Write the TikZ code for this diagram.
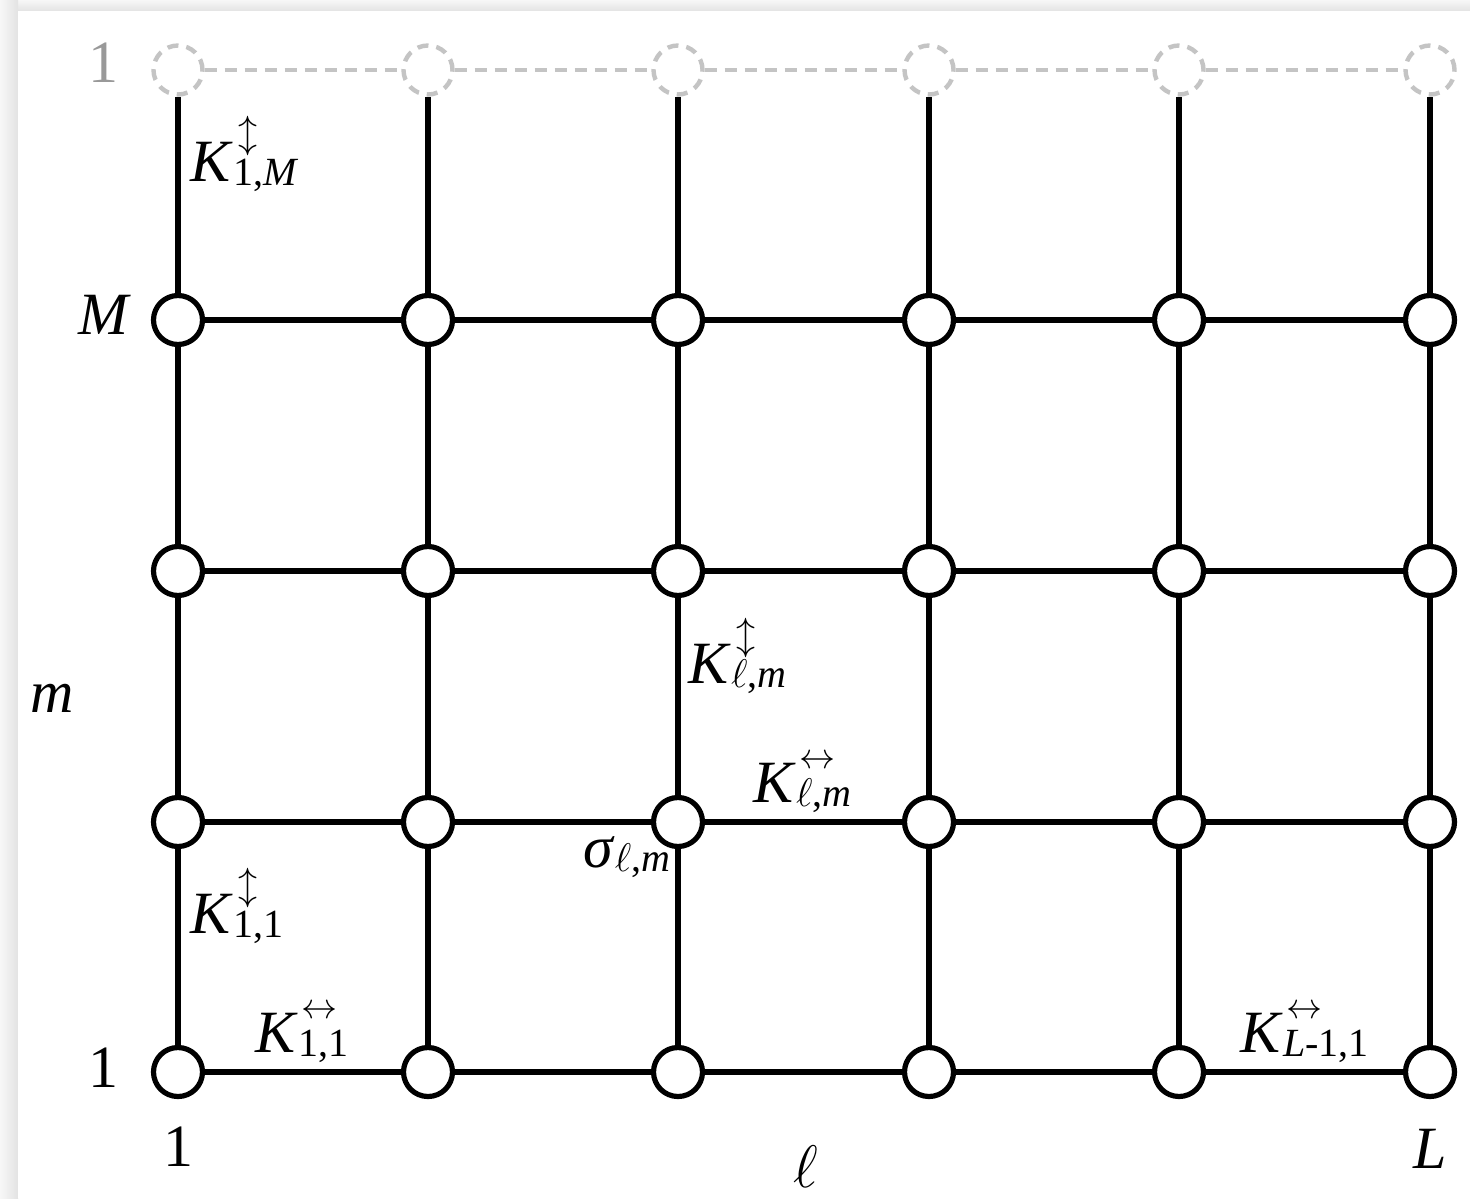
\RequirePackage{fix-cm}
\documentclass[tikz,border=0pt]{standalone}
\usepackage{fontspec}
\setmainfont{Liberation Serif}
\definecolor{ghost}{HTML}{C4C4C4}
\definecolor{ghosttext}{HTML}{999999}
\newcommand\Kv[1]{\textit{K}\rlap{\kern2.6pt\raisebox{18pt}{\fontsize{19}{19}\selectfont$\updownarrow$}}\raisebox{-2pt}{\fontsize{20}{20}\selectfont #1}}
\newcommand\Kh[1]{\textit{K}\rlap{\kern1.5pt\raisebox{17pt}{\fontsize{18}{18}\selectfont$\leftrightarrow$}}\raisebox{-2pt}{\fontsize{20}{20}\selectfont #1}}
\tikzset{
  site/.style={circle, draw=black, fill=white, line width=2.6pt, minimum size=24.5pt, inner sep=0pt},
  ghostsite/.style={circle, draw=ghost, fill=white, line width=2.2pt, minimum size=24.5pt, inner sep=0pt, dash pattern=on 5.5pt off 4pt},
  bond/.style={line width=3.2pt, black},
  ghostbond/.style={line width=2.4pt, ghost, dash pattern=on 6pt off 4pt},
  lab/.style={inner sep=0pt, font=\fontsize{30}{30}\selectfont},
}
\begin{document}
\begin{tikzpicture}[x=0.5pt, y=-0.5pt]
\useasboundingbox (0,0) rectangle (1470,1198);
% frame
\shade[top color=gray!6, bottom color=gray!22] (0,0) rectangle (1470,11);
\shade[left color=gray!6, right color=gray!22] (0,0) rectangle (18,1198);
\fill[white] (18,11) rectangle (1470,1198);
% sites
\foreach \i/\x in {1/178,2/428,3/678,4/929,5/1179,6/1430}{
  \node[ghostsite] (t-\i) at (\x,70) {};
  \foreach \j/\y in {1/1072,2/822,3/571,4/320}{
    \node[site] (n-\i-\j) at (\x,\y) {};
  }
}
% ghost bonds
\foreach \i [evaluate=\i as \k using int(\i+1)] in {1,...,5}{
  \draw[ghostbond] (t-\i) -- (t-\k);
}
% vertical bonds
\foreach \i in {1,...,6}{
  \draw[bond] (t-\i) -- (n-\i-4);
  \foreach \j [evaluate=\j as \k using int(\j+1)] in {1,2,3}{
    \draw[bond] (n-\i-\j) -- (n-\i-\k);
  }
}
% horizontal bonds
\foreach \j in {1,...,4}{
  \foreach \i [evaluate=\i as \k using int(\i+1)] in {1,...,5}{
    \draw[bond] (n-\i-\j) -- (n-\k-\j);
  }
}
% axis labels
\node[lab, anchor=base, text=ghosttext] (topone) at (103,83) {1};
\node[lab, anchor=base] (Mlab) at (105,334) {\textit{M}};
\node[lab, anchor=base] (mlab) at (52,712) {\textit{m}};
\node[lab, anchor=base] (onel) at (103,1087) {1};
\node[lab, anchor=base] (oneb) at (178,1166) {1};
\node[lab, anchor=base] (ell) at (806,1187) {$\ell$};
\node[lab, anchor=base] (Llab) at (1430,1168) {\textit{L}};
% coupling labels
\node[lab, anchor=base west] (k1M) at (190,182) {\Kv{1,\textit{M}}};
\node[lab, anchor=base west] (klmv) at (688,683) {\Kv{$\ell$,\textit{m}}};
\node[lab, anchor=base west] (klmh) at (753,802) {\Kh{$\ell$,\textit{m}}};
\node[lab, anchor=base west] (sig) at (583,867) {\textit{σ}\raisebox{-2pt}{\fontsize{20}{20}\selectfont$\ell$,\textit{m}}};
\node[lab, anchor=base west] (k11v) at (190,933) {\Kv{1,1}};
\node[lab, anchor=base west] (k11h) at (255,1052) {\Kh{1,1}};
\node[lab, anchor=base west] (kL1) at (1240,1052) {\Kh{\textit{L}-1,1}};
\end{tikzpicture}
\end{document}
